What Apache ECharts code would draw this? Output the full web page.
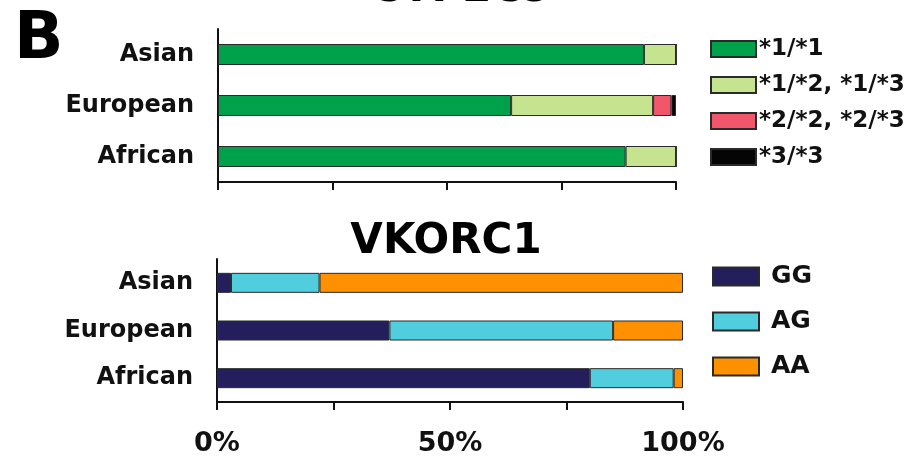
<!DOCTYPE html>
<html>
<head>
<meta charset="utf-8">
<script src="https://cdn.jsdelivr.net/npm/echarts@6/dist/echarts.min.js"></script>
<style>html,body{margin:0;padding:0;background:#fff}#c{width:909px;height:461px}</style>
</head>
<body>
<div id="c"></div>
<script>
// Categories (top to bottom)
const populations = ['Asian', 'European', 'African'];

// CYP2C9 genotype percentages
const cypNames = ['*1/*1', '*1/*2, *1/*3', '*2/*2, *2/*3', '*3/*3'];
const cyp11 = [93, 64, 89];
const cyp12_13 = [7, 31, 11];
const cyp22_23 = [0, 4, 0];
const cyp33 = [0, 1, 0];

// VKORC1 genotype percentages
const vkNames = ['GG', 'AG', 'AA'];
const vkGG = [3, 37, 80];
const vkAG = [19, 48, 18];
const vkAA = [78, 15, 2];

// Axis ticks
const xTicks = [0, 25, 50, 75, 100];
const xTickLabels = ['0%', '', '50%', '', '100%'];

const FONT = 'DejaVu Sans';
const cypColors = ['#00A14B', '#C6E48F', '#F2566B', '#050505'];
const vkColors = ['#241F5C', '#50CEDD', '#FF9000'];

const chart = echarts.init(document.getElementById('c'), null, {renderer: 'canvas'});

function mkBar(name, data, color, idx) {
  return {
    name: name, type: 'bar', stack: 's' + idx, data: data,
    xAxisIndex: idx, yAxisIndex: idx,
    barWidth: idx === 0 ? 21 : 20,
    itemStyle: {color: color, borderColor: '#2a2a2a', borderWidth: 1},
    emphasis: {disabled: true}
  };
}

const series = [];
[cyp11, cyp12_13, cyp22_23, cyp33].forEach((d, i) => series.push(mkBar(cypNames[i], d, cypColors[i], 0)));
[vkGG, vkAG, vkAA].forEach((d, i) => series.push(mkBar(vkNames[i], d, vkColors[i], 1)));

const axisLine = {show: true, lineStyle: {color: '#111', width: 2}};
function xAxis(idx, showLabels) {
  return {
    type: 'value', gridIndex: idx, min: 0, max: 100, interval: 25,
    axisLine: axisLine,
    axisTick: {show: true, length: 8, lineStyle: {color: '#111', width: 2}},
    splitLine: {show: false},
    axisLabel: {
      show: showLabels, margin: 28,
      fontFamily: FONT, fontWeight: 'bold', fontSize: 27, color: '#111',
      formatter: v => xTickLabels[xTicks.indexOf(v)] || ''
    }
  };
}
function yAxis(idx) {
  return {
    type: 'category', gridIndex: idx, data: populations, inverse: true,
    axisLine: axisLine, axisTick: {show: false},
    axisLabel: {margin: 24, fontFamily: FONT, fontWeight: 'bold', fontSize: 24, color: '#111'}
  };
}

chart.setOption({
  animation: false,
  backgroundColor: '#ffffff',
  title: [
    {text: 'B', left: 9, top: 4, textStyle: {fontFamily: FONT, fontWeight: 'bold', fontSize: 65, color: '#000'}},
    {text: 'CYP2C9', left: 456, top: -36, textAlign: 'center', textStyle: {fontFamily: FONT, fontWeight: 'bold', fontSize: 42, color: '#000'}},
    {text: 'VKORC1', left: 441, top: 216, textAlign: 'center', textStyle: {fontFamily: FONT, fontWeight: 'bold', fontSize: 42, color: '#000'}}
  ],
  legend: [
    {
      data: cypNames, orient: 'vertical', left: 705, top: 32,
      itemWidth: 45, itemHeight: 16, itemGap: 12, icon: 'rect',
      textStyle: {fontFamily: FONT, fontWeight: 'bold', fontSize: 23, color: '#111', lineHeight: 24, padding: [0, 0, 0, -2]},
      selectedMode: false
    },
    {
      data: vkNames, orient: 'vertical', left: 707, top: 259,
      itemWidth: 46, itemHeight: 18, itemGap: 20, icon: 'rect',
      textStyle: {fontFamily: FONT, fontWeight: 'bold', fontSize: 25, color: '#111', lineHeight: 24, padding: [0, 0, 0, 7]},
      selectedMode: false
    }
  ],
  grid: [
    {left: 218, right: 233, top: 29, height: 153},
    {left: 217, right: 226, top: 259, height: 143}
  ],
  xAxis: [xAxis(0, false), xAxis(1, true)],
  yAxis: [yAxis(0), yAxis(1)],
  series: series
});
</script>
</body>
</html>
